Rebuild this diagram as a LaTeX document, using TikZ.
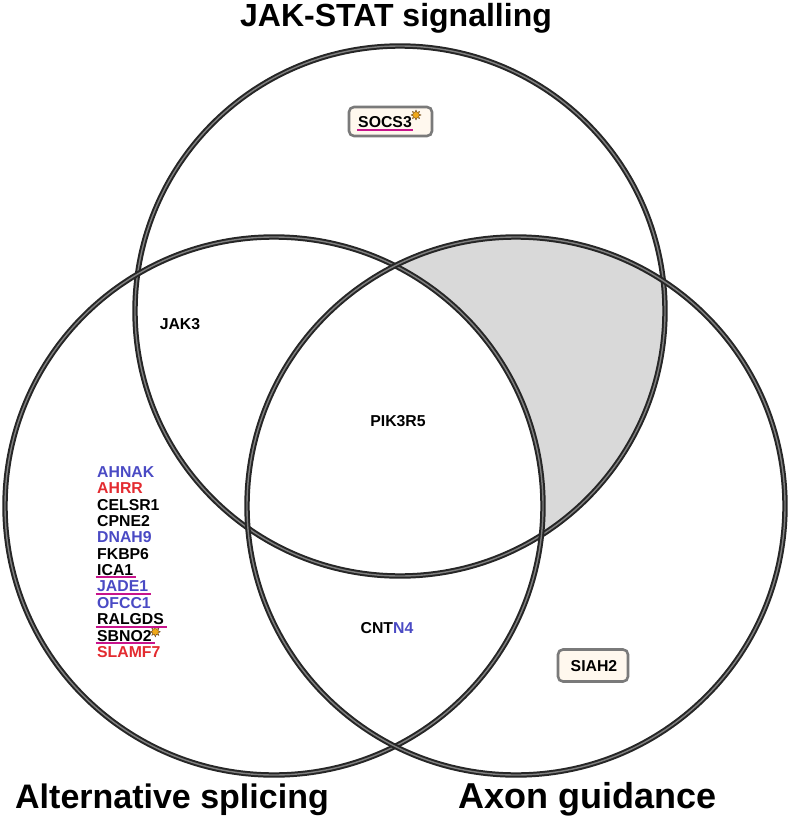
\documentclass[tikz,border=0pt]{standalone}
\usepackage{fontspec}
\setmainfont{Liberation Sans}
\usetikzlibrary{shapes.geometric}
\definecolor{gblue}{HTML}{4A4AC4}
\definecolor{gred}{HTML}{E32B30}
\definecolor{ulmag}{HTML}{C8148C}
\definecolor{boxfill}{HTML}{FFF8EE}
\definecolor{boxline}{HTML}{7A7A7A}
\definecolor{shadegray}{HTML}{D9D9D9}
\definecolor{starfill}{HTML}{F0A818}
\tikzset{
  venn/.style={draw=black!85, line width=2pt, double=black!50, double distance=1.4pt},
  gene/.style={font=\bfseries\fontsize{15.8}{18}\selectfont, inner sep=0pt, anchor=west},
  title/.style={font=\bfseries\fontsize{32}{38}\selectfont, inner sep=0pt},
  genebox/.style={draw=boxline, line width=2.6pt, fill=boxfill, rounded corners=5pt, inner sep=0pt},
  ul/.style={draw=ulmag, line width=2pt},
  starmark/.style={star, star points=8, star point ratio=1.8, fill=starfill, draw=black!50!brown, line width=0.4pt, minimum size=10pt, inner sep=0pt}
}
\begin{document}
\begin{tikzpicture}[x=1pt,y=-1pt]
\useasboundingbox (0,0) rectangle (790,824);
% shaded region: top and right, not left
\begin{scope}
  \clip (400,311) circle (265);
  \clip (516,506) circle (269);
  \fill[shadegray] (0,0) rectangle (790,824);
  \fill[white] (274,506) circle (269);
\end{scope}
% circles
\draw[venn] (400,311) circle (265);
\draw[venn] (274,506) circle (269);
\draw[venn] (516,506) circle (269);
% titles
\node[title] (tjak) at (396,18) {JAK-STAT signalling};
\node[title, font=\bfseries\fontsize{34}{40}\selectfont] (talt) at (172,800) {Alternative splicing};
\node[title, font=\bfseries\fontsize{36}{42}\selectfont] (taxon) at (588,799) {Axon guidance};
% SOCS3 box
\node[genebox, minimum width=83pt, minimum height=29pt] (socsbox) at (390.5,121.5) {};
\node[gene, anchor=center] (socs) at (385,122.5) {SOCS3};
\node[starmark] (socsstar) at (416,115) {};
\draw[ul] ([xshift=-1pt,yshift=-1.5pt]socs.south west) -- ([xshift=1pt,yshift=-1.5pt]socs.south east);
% SIAH2 box
\node[genebox, minimum width=70pt, minimum height=32pt] (siahbox) at (593,665.5) {};
\node[gene, anchor=center] (siah) at (594,666) {SIAH2};
% centre labels
\node[gene, anchor=center] (jak3) at (180,324) {JAK3};
\node[gene, anchor=center] (pik) at (398,421) {PIK3R5};
\node[gene, anchor=center] (cntn) at (387,628) {CNT\textcolor{gblue}{N4}};
% gene list
\node[gene, text=gblue] (g1) at (97,472) {AHNAK};
\node[gene, text=gred] (g2) at (97,488.4) {AHRR};
\node[gene] (g3) at (97,504.7) {CELSR1};
\node[gene] (g4) at (97,521.1) {CPNE2};
\node[gene, text=gblue] (g5) at (97,537.4) {DNAH9};
\node[gene] (g6) at (97,553.8) {FKBP6};
\node[gene] (g7) at (97,570.2) {ICA1};
\node[gene, text=gblue] (g8) at (97,586.5) {JADE1};
\node[gene, text=gblue] (g9) at (97,602.9) {OFCC1};
\node[gene] (g10) at (97,619.2) {RALGDS};
\node[gene] (g11) at (97,635.6) {SBNO2};
\node[gene, text=gred] (g12) at (97,652) {SLAMF7};
\node[starmark] (sbstar) at ([xshift=3.5pt,yshift=-2pt]g11.north east) {};
\foreach \g in {g7,g8,g10,g11}{
  \draw[ul] ([xshift=-1.5pt,yshift=-1.5pt]\g.south west) -- ([xshift=3pt,yshift=-1.5pt]\g.south east);
}
\end{tikzpicture}
\end{document}
